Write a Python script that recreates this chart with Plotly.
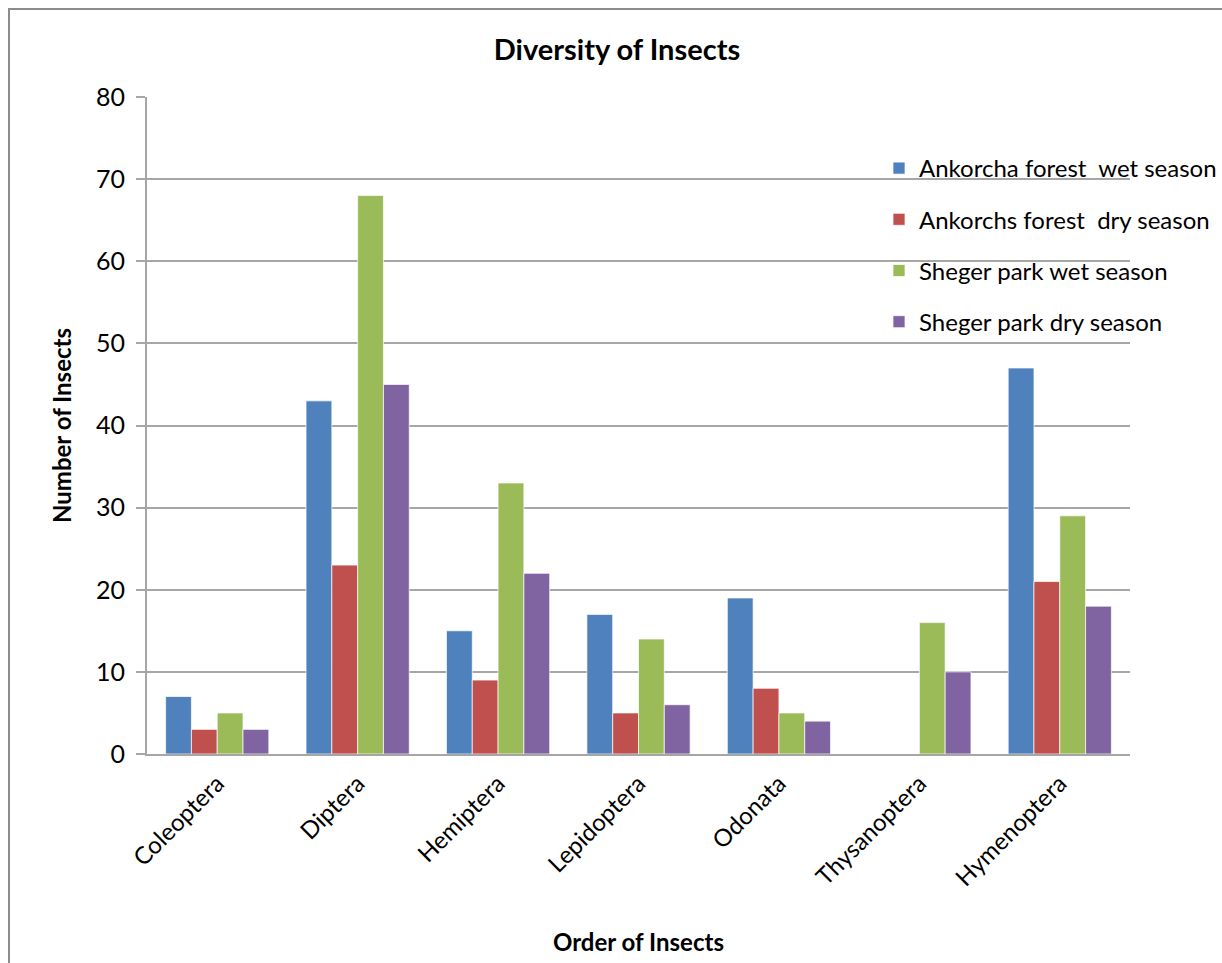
import plotly.graph_objects as go

# Insect orders and counts per site/season
orders = ["Coleoptera", "Diptera", "Hemiptera", "Lepidoptera", "Odonata", "Thysanoptera", "Hymenoptera"]
ankorcha_wet = [7, 43, 15, 17, 19, 0, 47]
ankorchs_dry = [3, 23, 9, 5, 8, 0, 21]
sheger_wet = [5, 68, 33, 14, 5, 16, 29]
sheger_dry = [3, 45, 22, 6, 4, 10, 18]

series_names = [
    "Ankorcha forest  wet season",
    "Ankorchs forest  dry season",
    "Sheger park wet season",
    "Sheger park dry season",
]
series_values = [ankorcha_wet, ankorchs_dry, sheger_wet, sheger_dry]
colors = ["#4F81BD", "#C0504D", "#9BBB59", "#8064A2"]

FONT = "Lato, Carlito, Calibri, sans-serif"

fig = go.Figure()
for i, (name, vals, col) in enumerate(zip(series_names, series_values, colors)):
    fig.add_trace(go.Bar(
        x=orders, y=vals, name=name, legendgroup=f"g{i}",
        marker=dict(color=col, line=dict(color="rgba(255,255,255,0.7)", width=1)),
    ))

W, H = 1222, 963
L, R, T, B = 147, 92, 97, 209
pw, ph = W - L - R, H - T - B

def px_x(px):
    return (px - L) / pw

def px_y(py):
    return (H - B - py) / ph

fig.update_layout(
    width=W, height=H,
    margin=dict(l=L, r=R, t=T, b=B, autoexpand=False),
    paper_bgcolor="white", plot_bgcolor="white",
    barmode="group", bargap=0.265, bargroupgap=0,
    font=dict(family=FONT, color="#000000", size=24),
    title=dict(text="<b>Diversity of Insects</b>", x=px_x(617), xref="paper", xanchor="center",
               y=1 - 50 / H, yanchor="middle", font=dict(size=29)),
    legend=dict(x=px_x(879), y=px_y(146), xanchor="left", yanchor="top",
                bgcolor="rgba(0,0,0,0)", font=dict(size=24), tracegroupgap=17,
                itemwidth=30),
    showlegend=True,
)

fig.update_yaxes(
    range=[0, 80], dtick=10, showgrid=True, gridcolor="#A6A6A6", gridwidth=1.5,
    showline=True, linecolor="#A6A6A6", linewidth=2,
    ticks="outside", ticklen=9, tickcolor="#A6A6A6", tickwidth=1.5,
    tickfont=dict(size=25), ticklabelstandoff=6, zeroline=False,
    title=dict(text="<b>Number of Insects</b>", font=dict(size=24), standoff=18),
)
fig.update_xaxes(
    showline=True, linecolor="#A6A6A6", linewidth=2, ticks="",
    tickangle=-45, tickfont=dict(size=24), ticklabelstandoff=4,
    title=dict(text="<b>Order of Insects</b>", font=dict(size=24), standoff=44),
)

# Outer chart frame (right and bottom edges run past the canvas)
fig.add_shape(type="rect", xref="paper", yref="paper",
              x0=px_x(9), x1=px_x(1240), y0=px_y(990), y1=px_y(9),
              line=dict(color="#8C8C8C", width=2), fillcolor="rgba(0,0,0,0)", layer="below")

fig.write_html("out.html")
